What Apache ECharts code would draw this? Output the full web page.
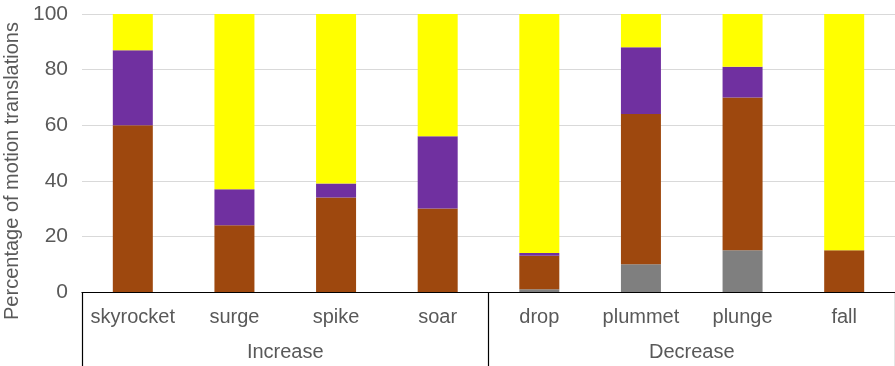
<!DOCTYPE html>
<html>
<head>
<meta charset="utf-8">
<script src="https://cdn.jsdelivr.net/npm/echarts@6/dist/echarts.min.js"></script>
<style>
  html, body { margin: 0; padding: 0; background: #fff; }
  #chart { width: 895px; height: 366px; }
</style>
</head>
<body>
<div id="chart"></div>
<script>
const verbs = ['skyrocket', 'surge', 'spike', 'soar', 'drop', 'plummet', 'plunge', 'fall'];
const groups = ['Increase', 'Decrease'];
const yTicks = [0, 20, 40, 60, 80, 100];

// stacked from bottom to top
const grayVals = [0, 0, 0, 0, 1, 10, 15, 0];
const brownVals = [60, 24, 34, 30, 12, 54, 55, 15];
const purpleVals = [27, 13, 5, 26, 1, 24, 11, 0];
const yellowVals = [13, 63, 61, 44, 86, 12, 19, 85];

const colors = { gray: '#7F7F7F', brown: '#9E480E', purple: '#7030A0', yellow: '#FFFF00' };

const font = 'Liberation Sans';
const chart = echarts.init(document.getElementById('chart'));

const bar = (name, data, color) => ({
  name, type: 'bar', stack: 'total', data,
  barWidth: 40,
  itemStyle: { color },
  xAxisIndex: 0
});

chart.setOption({
  animation: false,
  textStyle: { fontFamily: font },
  grid: { left: 82, right: 0, top: 14, bottom: 74, outerBoundsMode: 'none', containLabel: false },
  xAxis: [
    {
      type: 'category', data: verbs, position: 'bottom',
      axisLine: { lineStyle: { color: '#000', width: 1.2 } },
      axisTick: { show: false },
      axisLabel: { color: '#595959', fontSize: 20, margin: 15, interval: 0, fontFamily: font }
    },
    {
      type: 'category', data: groups, position: 'bottom',
      axisLine: { show: false },
      axisTick: { show: true, length: 74, lineStyle: { color: '#000', width: 1.2 } },
      axisLabel: { color: '#595959', fontSize: 20, margin: 50, interval: 0, fontFamily: font },
      splitLine: { show: false }
    }
  ],
  yAxis: {
    type: 'value', min: yTicks[0], max: yTicks[yTicks.length - 1], interval: 20,
    name: 'Percentage of motion translations',
    nameLocation: 'middle', nameGap: 55,
    nameTextStyle: { color: '#595959', fontSize: 20, fontFamily: font, padding: [0, 36, 0, 0] },
    axisLine: { show: false },
    axisTick: { show: false },
    axisLabel: { color: '#595959', fontSize: 21, margin: 14, fontFamily: font },
    splitLine: { lineStyle: { color: '#D9D9D9', width: 1.2 } }
  },
  series: [
    bar('gray', grayVals, colors.gray),
    bar('brown', brownVals, colors.brown),
    bar('purple', purpleVals, colors.purple),
    bar('yellow', yellowVals, colors.yellow)
  ]
});
</script>
</body>
</html>
